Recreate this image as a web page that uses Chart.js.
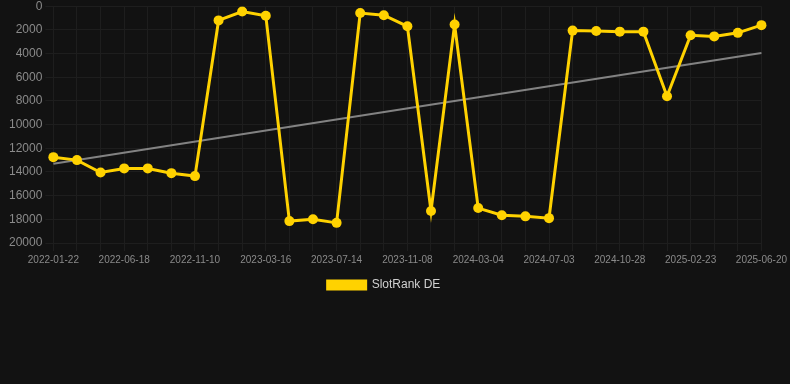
<!DOCTYPE html>
<html>
<head>
<meta charset="utf-8">
<script src="https://cdn.jsdelivr.net/npm/chart.js@4.4.1/dist/chart.umd.min.js"></script>
<style>
html,body{margin:0;padding:0;background:#121212;overflow:hidden;}
#wrap{position:relative;width:790px;height:309px;margin-top:-4px;}
</style>
</head>
<body>
<div id="wrap"><canvas id="rankChart"></canvas></div>
<script>
'use strict';
const dates=['2022-01-22','2022-03-12','2022-04-30','2022-06-18','2022-08-06','2022-09-23','2022-11-10',
  '2022-12-22','2023-02-02','2023-03-16','2023-04-25','2023-06-04','2023-07-14','2023-08-22','2023-09-30',
  '2023-11-08','2023-12-17','2024-01-25','2024-03-04','2024-04-13','2024-05-23','2024-07-03','2024-08-11',
  '2024-09-19','2024-10-28','2024-12-07','2025-01-15','2025-02-23','2025-04-03','2025-05-12','2025-06-20'];
const rankDE=[12750,13000,14050,13700,13700,14100,14350,1200,450,800,18150,18000,18300,580,760,1700,
  17300,1550,17050,17650,17750,17900,2060,2100,2150,2150,7600,2450,2550,2250,1600];
// trend: only ends given, the line spans the gap
const trend=[13300,...new Array(29).fill(null),3960];
const yTicks={min:0,max:20000,step:2000};

const ctx=document.getElementById('rankChart');
const font='Arial, "Liberation Sans", sans-serif';
new Chart(ctx,{
  type:'line',
  data:{labels:dates,datasets:[
    {label:'SlotRank DE',data:rankDE,borderColor:'#ffd200',backgroundColor:'#ffd200',borderWidth:3,
      pointRadius:5,pointHoverRadius:6,pointBackgroundColor:'#ffd200',pointBorderWidth:0,tension:0},
    {label:'trend',data:trend,borderColor:'rgba(150,150,150,0.85)',borderWidth:2,pointRadius:0,spanGaps:true,tension:0}
  ]},
  options:{
    responsive:true,
    maintainAspectRatio:false,
    animation:false,
    layout:{padding:{left:6,right:28,top:0,bottom:4}},
    plugins:{
      legend:{position:'bottom',labels:{filter:item=>item.datasetIndex===0,boxWidth:38,boxHeight:8,padding:10,color:'#d0d0d0',font:{size:12,family:font}}},
      tooltip:{enabled:false}
    },
    scales:{
      x:{grid:{color:'#1e1e1e'},border:{color:'#1e1e1e'},
        ticks:{autoSkip:false,maxRotation:0,color:'#8a8a8a',font:{size:10,family:font},
          callback:(v,i)=>i%3===0?dates[i]:''}},
      y:{reverse:true,min:yTicks.min,max:yTicks.max,grid:{color:'#1e1e1e'},border:{color:'#1e1e1e'},
        ticks:{stepSize:yTicks.step,color:'#8a8a8a',font:{size:12,family:font},callback:v=>String(v)}}
    }
  }
});
</script>
</body>
</html>
